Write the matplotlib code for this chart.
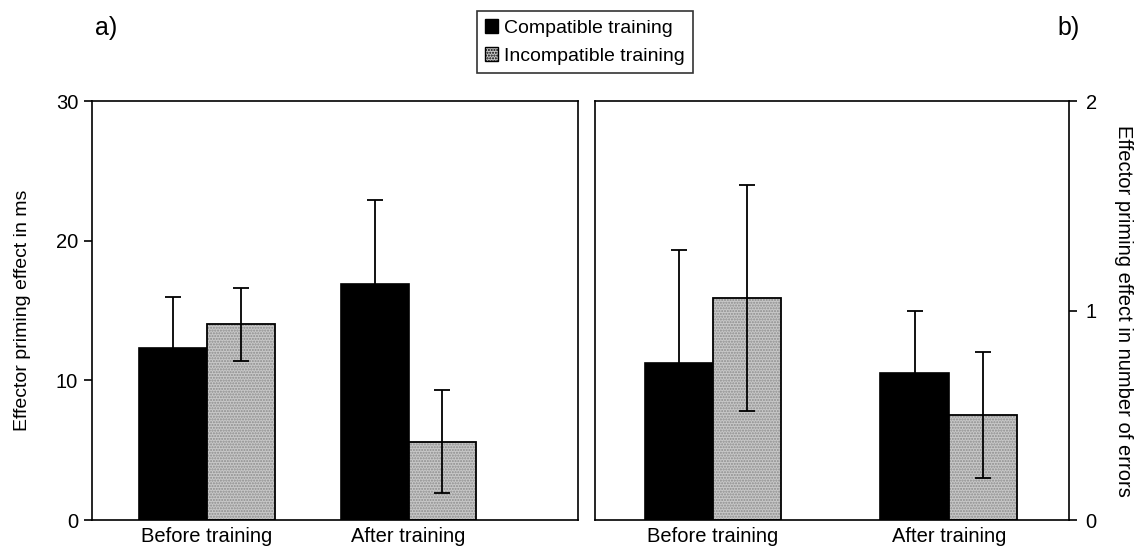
import numpy as np
import matplotlib.pyplot as plt
from matplotlib.patches import Patch

plt.rcParams['font.family'] = ['Liberation Sans', 'DejaVu Sans']
plt.rcParams['font.size'] = 14.5

# data
groups = ['Before training', 'After training']
series = ['Compatible training', 'Incompatible training']
ms_compat = [12.3, 16.9]
ms_compat_err = [3.7, 6.0]
ms_incompat = [14.0, 5.6]
ms_incompat_err = [2.6, 3.7]
err_compat = [0.75, 0.70]
err_compat_err = [0.54, 0.30]
err_incompat = [1.06, 0.50]
err_incompat_err = [0.54, 0.30]

black = '#000000'
grey = '#c8c8c8'


def draw_panel(ax, v1, e1, v2, e2, width):
    x = np.arange(len(groups))
    ax.bar(x - width / 2, v1, width, color=black, edgecolor=black, linewidth=1.2)
    ax.errorbar(x - width / 2, v1, yerr=e1, fmt='none', ecolor=black,
                elinewidth=1.3, capsize=6, capthick=1.3)
    ax.bar(x + width / 2, v2, width, color=grey, hatch='......',
           edgecolor='#8c8c8c', linewidth=0)
    ax.bar(x + width / 2, v2, width, fill=False, edgecolor=black, linewidth=1.3)
    ax.errorbar(x + width / 2, v2, yerr=e2, fmt='none', ecolor=black,
                elinewidth=1.3, capsize=6, capthick=1.3)
    ax.set_xticks(x)
    ax.set_xticklabels(groups)
    ax.tick_params(axis='x', length=0, pad=5)
    for s in ax.spines.values():
        s.set_linewidth(1.2)


fig = plt.figure(figsize=(11.39, 5.56), dpi=100)

ax1 = fig.add_axes([0.0808, 0.0647, 0.4267, 0.7536])
draw_panel(ax1, ms_compat, ms_compat_err, ms_incompat, ms_incompat_err, 0.335)
ax1.set_xlim(-0.57, 1.84)
ax1.set_ylim(0, 30)
ax1.set_yticks([0, 10, 20, 30])
ax1.tick_params(axis='y', direction='out', length=6, width=1.2, pad=4)
ax1.set_ylabel('Effector priming effect in ms', fontsize=14, labelpad=18)

ax2 = fig.add_axes([0.5224, 0.0647, 0.4162, 0.7536])
draw_panel(ax2, err_compat, err_compat_err, err_incompat, err_incompat_err, 0.29)
ax2.set_xlim(-0.50, 1.51)
ax2.set_ylim(0, 2)
ax2.set_yticks([0, 1, 2])
ax2.yaxis.tick_right()
ax2.yaxis.set_label_position('right')
ax2.tick_params(axis='y', direction='out', length=6, width=1.2, pad=6)
ax2.set_ylabel('Effector priming effect in number of errors', rotation=270, labelpad=26)

fig.text(0.083, 0.95, 'a)', fontsize=18, ha='left', va='center')
fig.text(0.928, 0.95, 'b)', fontsize=18, ha='left', va='center')

handles = [Patch(facecolor=black, edgecolor=black),
           Patch(facecolor=grey, edgecolor=black, hatch='......')]
leg = fig.legend(handles, series, loc='upper center', bbox_to_anchor=(0.5135, 0.99),
                 frameon=True, fancybox=False, edgecolor=black, handlelength=0.7,
                 handleheight=0.7, handletextpad=0.3, borderpad=0.4, labelspacing=0.55,
                 borderaxespad=0.3, fontsize=14)
leg.get_frame().set_linewidth(1.2)

fig.savefig('out.png', dpi=100)
